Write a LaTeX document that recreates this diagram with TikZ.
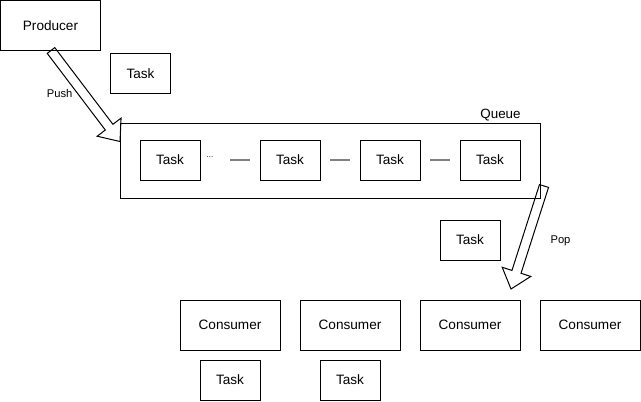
\documentclass[tikz,border=0pt]{standalone}
\usepackage{fontspec}
\setmainfont{Liberation Sans}
\usetikzlibrary{calc}
\newcommand\flexarrow[2]{%
  \path ($(#2)!18pt!(#1)$) coordinate (fb);
  \draw[flex] ($(#1)!4.75pt!90:(#2)$) -- ($(fb)!4.75pt!90:(#2)$) -- ($(fb)!15pt!90:(#2)$) -- (#2)
    -- ($(fb)!15pt!-90:(#2)$) -- ($(fb)!4.75pt!-90:(#2)$) -- ($(#1)!4.75pt!-90:(#2)$) -- cycle;}
\begin{document}
\begin{tikzpicture}[x=1pt,y=-1pt,
  box/.style={draw=black, line width=1pt, rectangle, inner sep=0pt, font=\fontsize{13.6}{16}\selectfont},
  task/.style={box, minimum width=60pt, minimum height=40pt},
  cons/.style={box, minimum width=100pt, minimum height=50pt},
  lbl/.style={font=\fontsize{11.2}{13}\selectfont, inner sep=0pt},
  link/.style={draw=black!50, line width=2pt},
  flex/.style={draw=black, line width=1pt, line join=miter}]
\useasboundingbox (0,0) rectangle (641,402);

\node[cons] (producer) at (50.5,25.5) {Producer};
\node[task] (t0) at (140.5,73.5) {Task};

\node[box, minimum width=420pt, minimum height=75pt] (queue) at (330,160.5) {};
\node[font=\fontsize{13.4}{16}\selectfont, inner sep=0pt, anchor=base] (qlabel) at (500.5,118.5) {Queue};

\node[task] (q1) at (170,160) {Task};
\node[task] (q2) at (290,160) {Task};
\node[task] (q3) at (390,160) {Task};
\node[task] (q4) at (490,160) {Task};
\node[font=\fontsize{8}{9}\selectfont, inner sep=0pt] (dots) at (210,157) {...};

\coordinate (l1a) at (230,160); \coordinate (l1b) at (250,160);
\coordinate (l2a) at (330,160); \coordinate (l2b) at (350,160);
\coordinate (l3a) at (430,160); \coordinate (l3b) at (450,160);
\draw[link] (l1a) -- (l1b);
\draw[link] (l2a) -- (l2b);
\draw[link] (l3a) -- (l3b);

\node[task] (t1) at (470,240) {Task};

\node[cons] (c1) at (230,325) {Consumer};
\node[cons] (c2) at (350,325) {Consumer};
\node[cons] (c3) at (470,325) {Consumer};
\node[cons] (c4) at (590,325) {Consumer};
\node[task] (t2) at (230,380) {Task};
\node[task] (t3) at (350,380) {Task};

\coordinate (pushS) at (51,50.5);
\coordinate (pushE) at (120,141.5);
\flexarrow{pushS}{pushE}
\node[lbl] (pushl) at (59.7,93.5) {Push};

\coordinate (popS) at (544,186);
\coordinate (popE) at (511,289);
\flexarrow{popS}{popE}
\node[lbl] (popl) at (560.5,241) {Pop};
\end{tikzpicture}
\end{document}
